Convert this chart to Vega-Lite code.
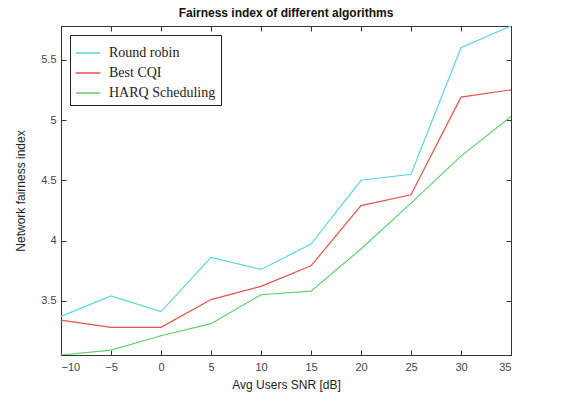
{
  "$schema": "https://vega.github.io/schema/vega-lite/v6.json",
  "width": 450,
  "height": 329,
  "autosize": "none",
  "padding": {"left": 61, "top": 26, "right": 55, "bottom": 44},
  "background": "white",
  "title": {"text": "Fairness index of different algorithms", "font": "Liberation Sans", "fontSize": 12, "fontWeight": "bold", "color": "#111", "offset": 6, "anchor": "middle"},
  "config": {
    "view": {"stroke": "#333", "strokeWidth": 1},
    "axis": {"grid": false, "labelFont": "Liberation Sans", "labelFontSize": 11, "labelColor": "#444", "titleFont": "Liberation Sans", "titleFontSize": 12, "titleFontWeight": "normal", "titleColor": "#222", "domainColor": "#333", "tickColor": "#333", "tickSize": -5}
  },
  "data": {"values": [
    {"snr": -10, "alg": "Round robin", "v": 3.37},
    {"snr": -5, "alg": "Round robin", "v": 3.54},
    {"snr": 0, "alg": "Round robin", "v": 3.41},
    {"snr": 5, "alg": "Round robin", "v": 3.86},
    {"snr": 10, "alg": "Round robin", "v": 3.76},
    {"snr": 15, "alg": "Round robin", "v": 3.97},
    {"snr": 20, "alg": "Round robin", "v": 4.50},
    {"snr": 25, "alg": "Round robin", "v": 4.55},
    {"snr": 30, "alg": "Round robin", "v": 5.60},
    {"snr": 35, "alg": "Round robin", "v": 5.78},
    {"snr": -10, "alg": "Best CQI", "v": 3.34},
    {"snr": -5, "alg": "Best CQI", "v": 3.28},
    {"snr": 0, "alg": "Best CQI", "v": 3.28},
    {"snr": 5, "alg": "Best CQI", "v": 3.51},
    {"snr": 10, "alg": "Best CQI", "v": 3.62},
    {"snr": 15, "alg": "Best CQI", "v": 3.79},
    {"snr": 20, "alg": "Best CQI", "v": 4.29},
    {"snr": 25, "alg": "Best CQI", "v": 4.38},
    {"snr": 30, "alg": "Best CQI", "v": 5.19},
    {"snr": 35, "alg": "Best CQI", "v": 5.25},
    {"snr": -10, "alg": "HARQ Scheduling", "v": 3.05},
    {"snr": -5, "alg": "HARQ Scheduling", "v": 3.09},
    {"snr": 0, "alg": "HARQ Scheduling", "v": 3.21},
    {"snr": 5, "alg": "HARQ Scheduling", "v": 3.31},
    {"snr": 10, "alg": "HARQ Scheduling", "v": 3.55},
    {"snr": 15, "alg": "HARQ Scheduling", "v": 3.58},
    {"snr": 20, "alg": "HARQ Scheduling", "v": 3.93},
    {"snr": 25, "alg": "HARQ Scheduling", "v": 4.31},
    {"snr": 30, "alg": "HARQ Scheduling", "v": 4.70},
    {"snr": 35, "alg": "HARQ Scheduling", "v": 5.03}
  ]},
  "layer": [
    {
      "mark": {"type": "line", "strokeWidth": 1.2, "clip": true},
      "encoding": {
        "x": {"field": "snr", "type": "quantitative", "scale": {"domain": [-10, 35], "nice": false, "zero": false},
              "axis": {"title": "Avg Users SNR [dB]", "values": [-10, -5, 0, 5, 10, 15, 20, 25, 30, 35], "labelPadding": 11, "titlePadding": 7}},
        "y": {"field": "v", "type": "quantitative", "scale": {"domain": [3.05, 5.78], "nice": false, "zero": false},
              "axis": {"title": "Network fairness index", "values": [3.5, 4, 4.5, 5, 5.5], "format": "~g", "labelPadding": 10, "titlePadding": 13}},
        "color": {"field": "alg", "type": "nominal",
                  "scale": {"domain": ["Round robin", "Best CQI", "HARQ Scheduling"], "range": ["#5ad6e0", "#e4524c", "#62cf6c"]},
                  "legend": {"title": null, "orient": "none", "legendX": 9, "legendY": 9, "direction": "vertical",
                             "symbolType": "stroke", "symbolSize": 600, "symbolStrokeWidth": 1.5,
                             "labelFont": "Liberation Serif", "labelFontSize": 14, "labelColor": "#222", "labelOffset": 8,
                             "strokeColor": "#222", "fillColor": "white", "padding": 5, "rowPadding": -12, "labelLimit": 300}}
      }
    },
    {
      "mark": {"type": "line", "opacity": 0},
      "encoding": {
        "x": {"field": "snr", "type": "quantitative", "axis": {"orient": "top", "labels": false, "title": null, "values": [-10, -5, 0, 5, 10, 15, 20, 25, 30, 35]}},
        "y": {"field": "v", "type": "quantitative", "axis": {"orient": "right", "labels": false, "title": null, "values": [3.5, 4, 4.5, 5, 5.5]}}
      }
    }
  ],
  "resolve": {"axis": {"x": "independent", "y": "independent"}}
}
